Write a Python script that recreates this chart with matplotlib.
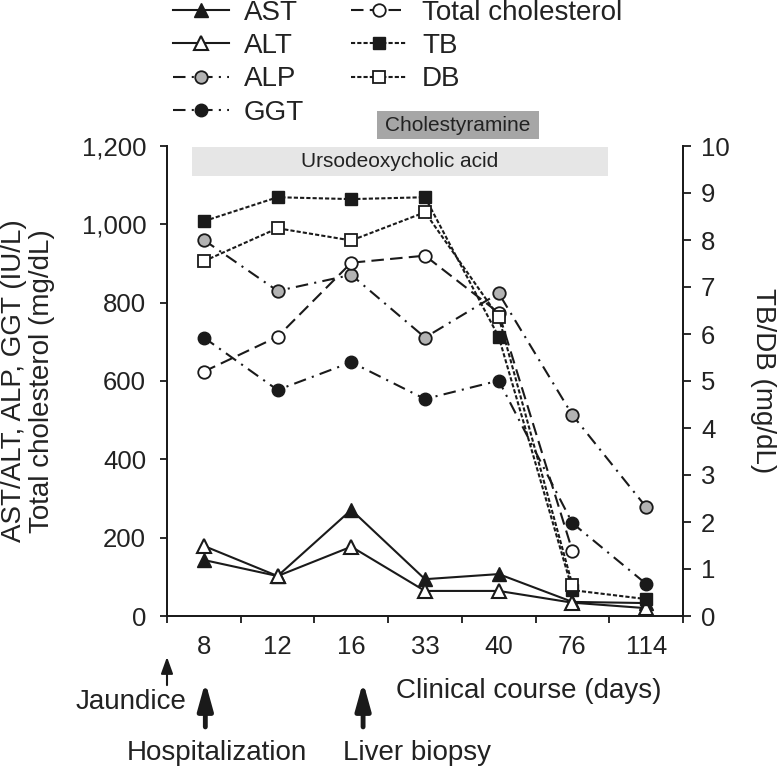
import numpy as np
import matplotlib
matplotlib.use("Agg")
import matplotlib.pyplot as plt

plt.rcParams['font.family'] = ['Liberation Sans', 'DejaVu Sans']

# clinical course (days) -> categorical x axis
days = ["8", "12", "16", "33", "40", "76", "114"]

# left axis (IU/L, mg/dL)
ast = [143, 102, 271, 94, 107, 36, 33]
alt = [179, 102, 177, 64, 64, 34, 20]
alp = [960, 830, 871, 711, 824, 513, 278]
ggt = [711, 577, 648, 554, 601, 237, 82]
tchol = [624, 713, 902, 920, 774, 166, np.nan]

# right axis (mg/dL)
tb = [8.40, 8.91, 8.87, 8.91, 5.94, 0.55, 0.36]
db = [7.55, 8.25, 7.99, 8.59, 6.36, 0.66, np.nan]

# treatment periods, in category units along x
treat_names = ["Ursodeoxycholic acid", "Cholestyramine"]
treat_start = [0.34, 2.85]
treat_end = [5.98, 5.05]

ink = "#1a1a1a"
txt = "#222222"

fig = plt.figure(figsize=(7.79, 7.68), dpi=100)
ax = fig.add_axes([167 / 779, 1 - 616 / 768, (683 - 167) / 779, 470 / 768])
ax2 = ax.twinx()

x = np.arange(len(days)) + 0.5
lw = 1.5

ax.plot(x, ast, color=ink, lw=lw, ls='-', marker='^', ms=10, mfc=ink, mec=ink, label='AST')
ax.plot(x, alt, color=ink, lw=lw, ls='-', marker='^', ms=10, mfc='white', mec=ink, mew=1.5, label='ALT')
ax.plot(x, alp, color=ink, lw=lw, ls=(0, (6, 3, 1, 3)), marker='o', ms=9, mfc='#b3b3b3', mec=ink, mew=1.3, label='ALP')
ax.plot(x, ggt, color=ink, lw=lw, ls=(0, (6, 3, 1, 3)), marker='o', ms=9, mfc=ink, mec=ink, label='GGT')
ax.plot(x, tchol, color=ink, lw=lw, ls=(0, (6, 3)), marker='o', ms=9, mfc='white', mec=ink, mew=1.3, label='Total cholesterol')

ax2.plot(x, tb, color=ink, lw=lw, ls=(0, (2, 1)), marker='s', ms=8, mfc=ink, mec=ink, label='TB')
ax2.plot(x, db, color=ink, lw=lw, ls=(0, (2, 1)), marker='s', ms=8, mfc='white', mec=ink, mew=1.3, label='DB')

ax.set_xlim(0, 7)
ax.set_ylim(0, 1200)
ax2.set_ylim(0, 10)

ax.set_xticks(np.arange(8))
ax.set_xticklabels([])
ax.set_xticks(x, minor=True)
ax.set_xticklabels(days, minor=True)
ax.tick_params(axis='x', which='minor', length=0, pad=14, labelsize=18.5, labelcolor=txt)
ax.tick_params(axis='x', which='major', length=5, width=1.3, direction='out', color=ink)
ax.set_yticks(np.arange(0, 1201, 200))
ax.set_yticklabels([f"{v:,}" for v in range(0, 1201, 200)])
ax.tick_params(axis='y', length=5, width=1.3, pad=10, labelsize=18.5, labelcolor=txt, color=ink)
ax2.set_yticks(np.arange(0, 11, 1))
ax2.tick_params(axis='y', length=6, width=1.3, pad=7, labelsize=18.5, labelcolor=txt, color=ink)

for a in (ax, ax2):
    a.spines['top'].set_visible(False)
    for s in ('left', 'right', 'bottom'):
        a.spines[s].set_linewidth(1.3)
        a.spines[s].set_color(ink)

fig.text(28 / 779, 1 - 381 / 768, "AST/ALT, ALP, GGT (IU/L)\nTotal cholesterol (mg/dL)",
         rotation=90, ha='center', va='center', multialignment='center',
         fontsize=20, color=txt, linespacing=1.1)
fig.text(763 / 779, 1 - 381 / 768, "TB/DB (mg/dL)", rotation=-90, ha='center', va='center',
         fontsize=20, color=txt)

# treatment bars above the curves
ax.barh(1161, treat_end[0] - treat_start[0], left=treat_start[0], height=75,
        color='#e6e6e6', clip_on=False, zorder=0)
ax.text((treat_start[0] + treat_end[0]) / 2, 1161, treat_names[0], ha='center', va='center',
        fontsize=15, color=txt)
ax.barh(1253, treat_end[1] - treat_start[1], left=treat_start[1], height=72,
        color='#a6a6a6', clip_on=False, zorder=0)
ax.text((treat_start[1] + treat_end[1]) / 2, 1253, treat_names[1], ha='center', va='center',
        fontsize=15, color=txt)

# event arrows below the axis
tr = ax.get_xaxis_transform()
ax.annotate('', xy=(0.0, -0.087), xytext=(0.0, -0.147), xycoords=tr, textcoords=tr,
            arrowprops=dict(arrowstyle='-|>,head_length=0.5,head_width=0.18', lw=1.5,
                            color=ink, shrinkA=0, shrinkB=0, mutation_scale=20))
for xa in (0.52, 2.66):
    ax.annotate('', xy=(xa, -0.140), xytext=(xa, -0.236), xycoords=tr, textcoords=tr,
                arrowprops=dict(arrowstyle='-|>,head_length=0.65,head_width=0.18', lw=3.5,
                                color=ink, shrinkA=0, shrinkB=0, mutation_scale=25))

ax.text(0.27, -0.183, "Jaundice", transform=tr, ha='right', va='center', fontsize=20, color=txt)
ax.text(0.68, -0.291, "Hospitalization", transform=tr, ha='center', va='center', fontsize=20, color=txt)
ax.text(2.39, -0.291, "Liver biopsy", transform=tr, ha='left', va='center', fontsize=20, color=txt)
ax.text(4.91, -0.160, "Clinical course (days)", transform=tr, ha='center', va='center', fontsize=20, color=txt)

h1, l1 = ax.get_legend_handles_labels()
h2, l2 = ax2.get_legend_handles_labels()
fig.legend(h1 + h2, l1 + l2, ncol=2, loc='upper left', bbox_to_anchor=(173 / 779, 1.0),
           frameon=False, fontsize=20, handlelength=2.0, handletextpad=0.55,
           columnspacing=1.7, labelspacing=0.26, borderpad=0, borderaxespad=0,
           labelcolor=txt)

fig.savefig("out.png", dpi=100)
